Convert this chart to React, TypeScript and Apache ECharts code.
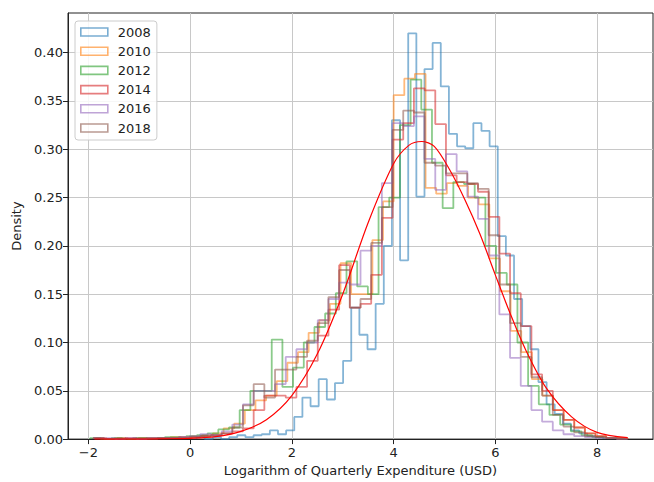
import React, { useEffect, useRef } from 'react';
import * as echarts from 'echarts';

const years = ['2008', '2010', '2012', '2014', '2016', '2018'];
const colors = ['#1f77b4', '#ff7f0e', '#2ca02c', '#d62728', '#9467bd', '#8c564b'];

// histogram bin layout per year (left edge of first bin, bin width)
const binStart = [0.128, -1.85, -1.965, -1.9, -1.9, -1.9];
const binWidth = [0.16, 0.209, 0.21, 0.21, 0.21, 0.21];

const d2008 = [0.002, 0.0, 0.002, 0.0, 0.002, 0.004, 0.002, 0.004, 0.005, 0.009,
  0.005, 0.009, 0.023, 0.043, 0.034, 0.062, 0.041, 0.058, 0.081, 0.136,
  0.108, 0.093, 0.140, 0.200, 0.330, 0.185, 0.420, 0.251, 0.383, 0.410,
  0.365, 0.316, 0.303, 0.301, 0.327, 0.319, 0.303, 0.210, 0.190, 0.145,
  0.117, 0.093, 0.059, 0.036, 0.026, 0.016, 0.009, 0.006, 0.003, 0.002];
const d2010 = [0.001, 0.0, 0.001, 0.0, 0.001, 0.001, 0.001, 0.002, 0.001, 0.003,
  0.004, 0.006, 0.011, 0.016, 0.030, 0.040, 0.045, 0.060, 0.079, 0.090,
  0.110, 0.123, 0.140, 0.182, 0.150, 0.150, 0.206, 0.246, 0.356, 0.373,
  0.378, 0.260, 0.254, 0.265, 0.262, 0.250, 0.243, 0.187, 0.153, 0.112,
  0.090, 0.062, 0.045, 0.030, 0.020, 0.012, 0.006, 0.003, 0.001, 0.001];
const d2012 = [0.001, 0.0, 0.001, 0.0, 0.001, 0.001, 0.001, 0.002, 0.002, 0.003,
  0.004, 0.006, 0.010, 0.012, 0.030, 0.050, 0.050, 0.103, 0.054, 0.074,
  0.100, 0.116, 0.130, 0.151, 0.184, 0.158, 0.150, 0.240, 0.250, 0.325,
  0.372, 0.341, 0.286, 0.239, 0.266, 0.264, 0.250, 0.200, 0.172, 0.160,
  0.100, 0.055, 0.036, 0.025, 0.015, 0.008, 0.004, 0.002, 0.001, 0.001];
const d2014 = [0.001, 0.0, 0.0, 0.001, 0.0, 0.001, 0.001, 0.001, 0.002, 0.002,
  0.003, 0.004, 0.006, 0.008, 0.011, 0.030, 0.045, 0.045, 0.043, 0.054,
  0.081, 0.107, 0.134, 0.180, 0.136, 0.140, 0.170, 0.229, 0.310, 0.327,
  0.363, 0.361, 0.326, 0.273, 0.266, 0.264, 0.256, 0.230, 0.192, 0.151,
  0.117, 0.067, 0.050, 0.030, 0.020, 0.012, 0.006, 0.003, 0.001, 0.001];
const d2016 = [0.001, 0.001, 0.0, 0.001, 0.0, 0.001, 0.001, 0.001, 0.002, 0.003,
  0.005, 0.004, 0.008, 0.015, 0.036, 0.050, 0.050, 0.057, 0.085, 0.093,
  0.100, 0.123, 0.145, 0.162, 0.160, 0.195, 0.200, 0.265, 0.327, 0.324,
  0.334, 0.290, 0.258, 0.295, 0.277, 0.251, 0.228, 0.190, 0.129, 0.084,
  0.055, 0.030, 0.018, 0.009, 0.005, 0.003, 0.002, 0.001, 0.001, 0.0];
const d2018 = [0.001, 0.0, 0.001, 0.0, 0.001, 0.0, 0.001, 0.001, 0.001, 0.002,
  0.003, 0.004, 0.006, 0.012, 0.035, 0.057, 0.043, 0.072, 0.072, 0.085,
  0.102, 0.120, 0.147, 0.175, 0.136, 0.145, 0.203, 0.240, 0.320, 0.340,
  0.338, 0.286, 0.283, 0.275, 0.275, 0.265, 0.259, 0.211, 0.160, 0.120,
  0.085, 0.064, 0.045, 0.025, 0.013, 0.007, 0.003, 0.002, 0.001, 0.0];
const histValues = [d2008, d2010, d2012, d2014, d2016, d2018];

// red reference curve
const curveX = [-1.88, -1.0, -0.5, 0.0, 0.5, 1.0, 1.5, 2.0, 2.5, 3.0, 3.5, 4.0, 4.3, 4.55,
  4.8, 5.1, 5.4, 5.7, 6.0, 6.3, 6.6, 7.0, 7.5, 8.0, 8.6];
const curveY = [0.0, 0.0, 0.0003, 0.0008, 0.0025, 0.008, 0.02, 0.045, 0.088, 0.150, 0.224,
  0.285, 0.304, 0.308, 0.303, 0.279, 0.248, 0.212, 0.170, 0.129, 0.092, 0.053, 0.023, 0.007, 0.0015];

const xTicks = [-2, 0, 2, 4, 6, 8];
const yTicks = [0, 0.05, 0.1, 0.15, 0.2, 0.25, 0.3, 0.35, 0.4];

const FONT = 'DejaVu Sans';
const INK = '#222222';

function stepPoints(start: number, w: number, h: number[]) {
  const pts: number[][] = [[start, 0]];
  h.forEach((v, i) => {
    pts.push([start + i * w, v]);
    pts.push([start + (i + 1) * w, v]);
  });
  pts.push([start + h.length * w, 0]);
  return pts;
}

export default function App() {
  const ref = useRef<HTMLDivElement>(null);
  useEffect(() => {
    if (!ref.current) return;
    const chart = echarts.init(ref.current, undefined, { renderer: 'svg' });
    const histSeries = years.map((y, i) => ({
      name: y,
      type: 'line',
      data: stepPoints(binStart[i], binWidth[i], histValues[i]),
      showSymbol: false,
      symbol: 'none',
      lineStyle: { color: colors[i], width: 1.8, opacity: 0.55 },
      itemStyle: { color: colors[i] },
      z: 2 + i,
    }));
    chart.setOption({
      animation: false,
      grid: { left: 68, right: 1, top: 13, bottom: 40, show: true, borderColor: INK, borderWidth: 1, backgroundColor: 'transparent' },
      xAxis: {
        type: 'value', min: -2.4, max: 9.1,
        name: 'Logarithm of Quarterly Expenditure (USD)', nameLocation: 'middle', nameGap: 21,
        nameTextStyle: { fontFamily: FONT, fontSize: 13, color: INK },
        axisLine: { show: true, onZero: false, lineStyle: { color: INK, width: 1 } },
        axisTick: { show: true, length: 5, lineStyle: { color: INK }, customValues: xTicks },
        axisLabel: {
          fontFamily: FONT, fontSize: 13, color: INK, margin: 7, customValues: xTicks,
          formatter: (v: number) => (v < 0 ? '\u2212' + Math.abs(v) : String(v)),
        },
        splitLine: { show: true, lineStyle: { color: '#c8c8c8', width: 1 } },
      },
      yAxis: {
        type: 'value', min: 0, max: 0.441,
        name: 'Density', nameLocation: 'middle', nameGap: 42,
        nameTextStyle: { fontFamily: FONT, fontSize: 13, color: INK },
        axisLine: { show: true, onZero: false, lineStyle: { color: INK, width: 1 } },
        axisTick: { show: true, length: 5, lineStyle: { color: INK }, customValues: yTicks },
        axisLabel: {
          fontFamily: FONT, fontSize: 13, color: INK, margin: 5, customValues: yTicks,
          formatter: (v: number) => v.toFixed(2),
        },
        splitLine: { show: true, lineStyle: { color: '#c8c8c8', width: 1 } },
      },
      legend: {
        orient: 'vertical', left: 75, top: 21,
        padding: [4, 6, 5, 5],
        itemWidth: 27, itemHeight: 8, itemGap: 5.2,
        backgroundColor: 'rgba(255,255,255,0.85)', borderColor: '#cccccc', borderWidth: 1, borderRadius: 3,
        textStyle: { fontFamily: FONT, fontSize: 13, color: INK, lineHeight: 14, padding: [0, 0, 0, 5] },
        selectedMode: false,
        data: years.map((y, i) => ({
          name: y, icon: 'rect',
          itemStyle: { color: 'rgba(255,255,255,0)', borderColor: colors[i], borderWidth: 1.6, opacity: 0.6 },
        })),
      },
      series: [
        ...histSeries,
        {
          name: 'fit', type: 'line',
          data: curveX.map((x, i) => [x, curveY[i]]),
          smooth: 0.3, showSymbol: false, symbol: 'none',
          lineStyle: { color: '#ff0000', width: 1.2 },
          itemStyle: { color: '#ff0000' },
          z: 10,
        },
      ],
    });
    return () => chart.dispose();
  }, []);
  return <div ref={ref} style={{ width: 654, height: 482, position: 'fixed', left: 0, top: 0, background: '#fff' }} />;
}
